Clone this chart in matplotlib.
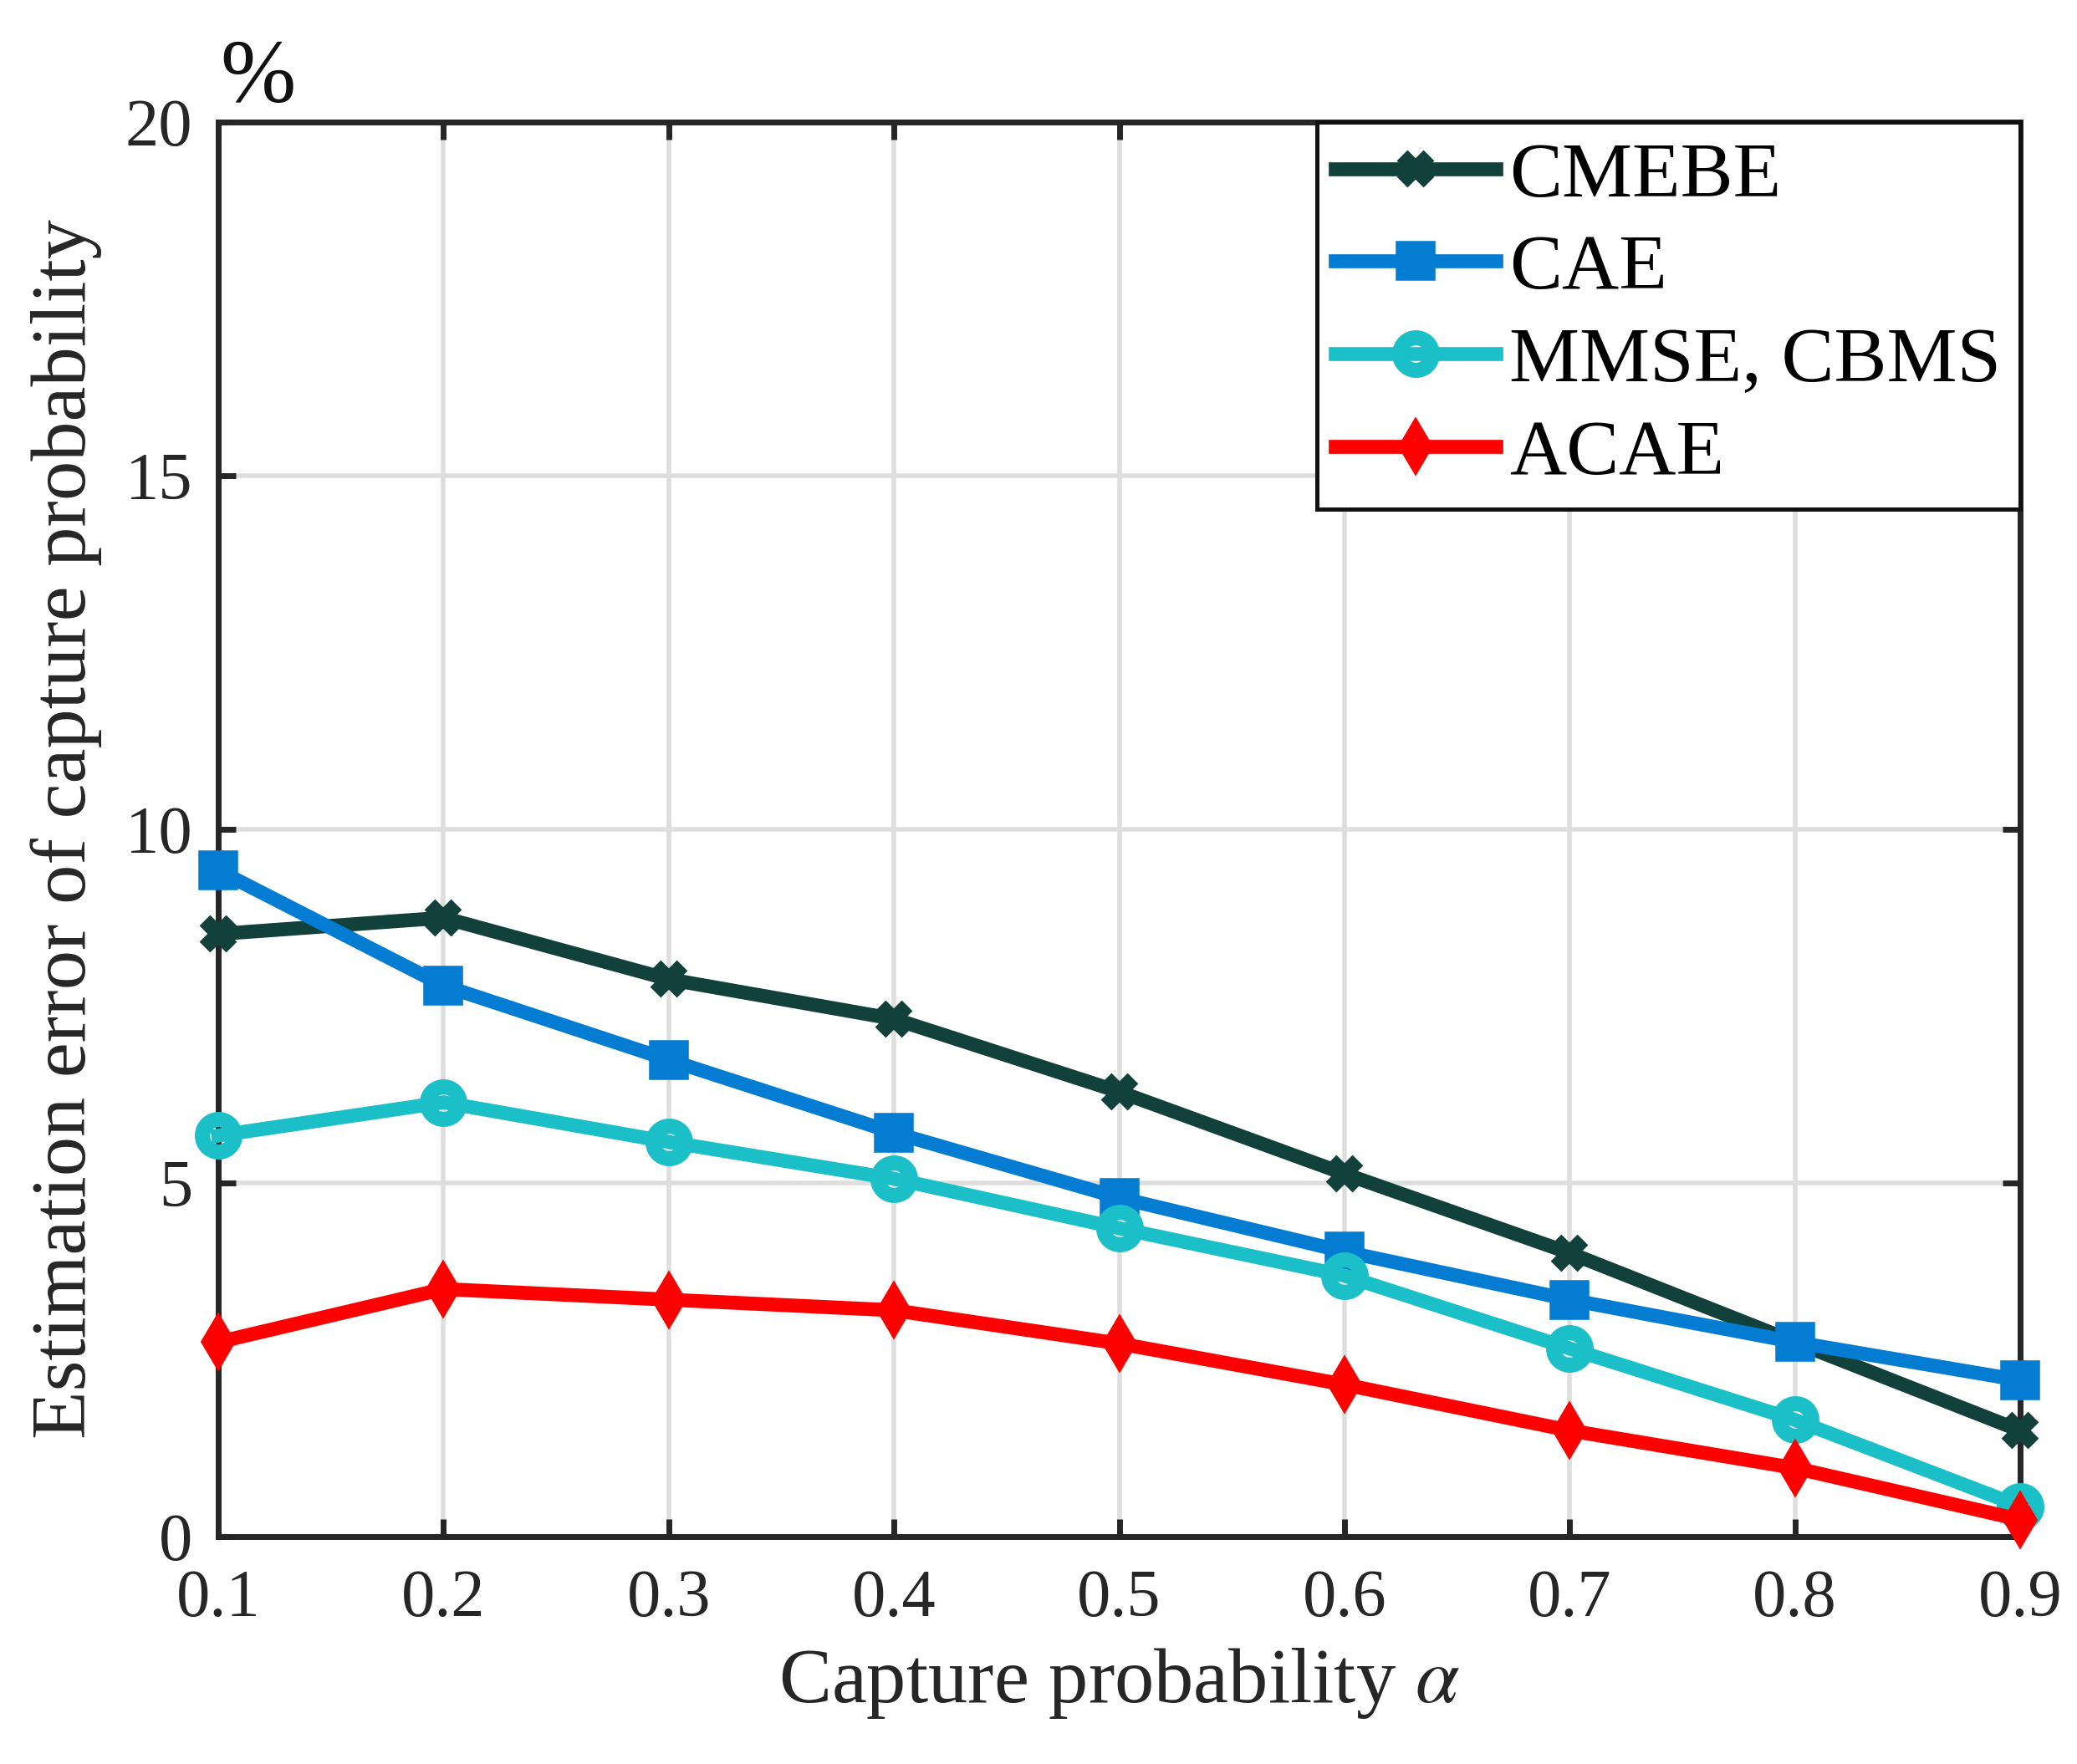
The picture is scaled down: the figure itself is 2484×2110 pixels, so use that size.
import matplotlib
matplotlib.use('Agg')
import matplotlib.pyplot as plt

plt.rcParams['font.family'] = ['Liberation Serif', 'DejaVu Serif']
plt.rcParams['mathtext.fontset'] = 'stix'

alpha = [0.1, 0.2, 0.3, 0.4, 0.5, 0.6, 0.7, 0.8, 0.9]
cmebe = [8.52, 8.75, 7.88, 7.32, 6.29, 5.13, 4.01, 2.75, 1.50]
cae = [9.42, 7.79, 6.74, 5.71, 4.79, 4.03, 3.35, 2.75, 2.21]
mmse_cbms = [5.67, 6.14, 5.58, 5.06, 4.36, 3.69, 2.66, 1.65, 0.43]
acae = [2.75, 3.50, 3.35, 3.20, 2.73, 2.15, 1.50, 0.97, 0.24]

x_ticks = [0.1, 0.2, 0.3, 0.4, 0.5, 0.6, 0.7, 0.8, 0.9]
y_ticks = [0, 5, 10, 15, 20]

W, H = 2484, 2110
fig = plt.figure(figsize=(W / 100, H / 100), dpi=100)
ax = fig.add_axes([261 / W, 1 - 1838 / H, (2416 - 261) / W, (1838 - 146) / H])

lw = 12
ax.plot(alpha, cmebe, color='#12403a', lw=lw, marker='x', ms=23, mew=13,
        label='CMEBE', clip_on=False, zorder=3)
ax.plot(alpha, cae, color='#037cd2', lw=lw, marker='s', ms=30, mew=4,
        mfc='#037cd2', label='CAE', clip_on=False, zorder=3)
ax.plot(alpha, mmse_cbms, color='#1bbfc8', lw=lw, marker='o', ms=28, mew=13,
        mfc='none', label='MMSE, CBMS', clip_on=False, zorder=3)
ax.plot(alpha, acae, color='#ff0000', lw=lw, marker='d', ms=22, mew=10,
        mfc='none', label='ACAE', clip_on=False, zorder=3)

ax.set_xlim(0.1, 0.9)
ax.set_ylim(0, 20)
ax.set_xticks(x_ticks)
ax.set_xticklabels([str(t) for t in x_ticks])
ax.set_yticks(y_ticks)
ax.grid(True, color='#dedede', lw=4)
ax.set_axisbelow(True)

for s in ax.spines.values():
    s.set_linewidth(5)
    s.set_color('#262626')
ax.tick_params(direction='in', length=15, width=5, color='#262626',
               top=True, right=True, labelsize=58, labelcolor='#262626')
ax.tick_params(axis='x', pad=28)
ax.tick_params(axis='y', pad=22)

ax.set_xlabel(r'Capture probability $\alpha$', fontsize=68, color='#262626', labelpad=14)
ax.set_ylabel('Estimation error of capture probability', fontsize=68,
              color='#262626', labelpad=20)
fig.text(263 / W, 1 - 122 / H, '%', fontsize=78, ha='left', va='baseline', color='#111111')

leg = ax.legend(loc='upper right', bbox_to_anchor=(1, 1), borderaxespad=0,
                fontsize=68, fancybox=False, framealpha=1, handlelength=2.03,
                handletextpad=0.17, labelspacing=0.26, borderpad=0.24)
leg.get_frame().set_edgecolor('#111111')
leg.get_frame().set_linewidth(3.6)
leg.set_zorder(5)

fig.savefig('out.png', dpi=100)
